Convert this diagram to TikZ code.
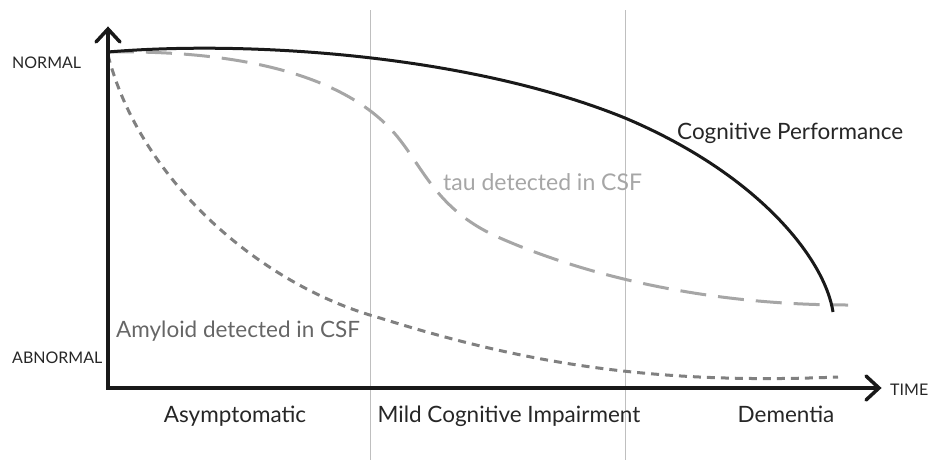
\documentclass[tikz,border=0pt]{standalone}
\usepackage{fontspec}
\setmainfont{Lato}
\begin{document}
\begin{tikzpicture}[x=1pt,y=-1pt,
  lab/.style={inner sep=0pt,font=\fontsize{22.5}{24}\selectfont,text=black!85},
  axlab/.style={inner sep=0pt,font=\fontsize{16}{18}\selectfont,text=black!85},
  axis/.style={line width=3.5pt,black!90},
  sep/.style={line width=0.6pt,black!25}]
\useasboundingbox (0,0) rectangle (931,463);
\coordinate (o) at (108,388);
\coordinate (ytip) at (108,30);
\coordinate (xtip) at (878,388);
\draw[sep] (370,10) -- (370,460);
\draw[sep] (625,10) -- (625,460);
% curves
\draw[line width=3pt,dash pattern=on 8pt off 6pt,black!50]
  (108,55) .. controls (140,180) and (260,285) .. (380,318)
  .. controls (520,362) and (650,385) .. (838,377);
\draw[line width=3pt,black!35,dash pattern=on 26pt off 12pt]
  (108,52) .. controls (240,50) and (350,75) .. (400,140)
  .. controls (425,172) and (440,212) .. (500,238)
  .. controls (580,273) and (700,305) .. (848,305);
\draw[line width=3pt,black!90]
  (108,52) .. controls (250,40) and (470,55) .. (625,118)
  .. controls (760,175) and (825,260) .. (833,312);
% axes
\draw[axis,line cap=round,line join=miter] (xtip) -- (o) -- (ytip);
\draw[axis,line cap=round] (96,42) -- (108,29) -- (120,42);
\draw[axis,line cap=round] (866,376) -- (879,388) -- (866,400);
\node[axlab,anchor=base west] (n) at (12,68) {NORMAL};
\node[axlab,anchor=base west] (a) at (12,363) {ABNORMAL};
\node[axlab,anchor=base west] (t) at (890,395) {TIME};
\node[lab,anchor=base] (s1) at (235,422) {Asymptomatic};
\node[lab,anchor=base] (s2) at (509,422) {Mild Cognitive Impairment};
\node[lab,anchor=base] (s3) at (786,422) {Dementia};
\node[lab,anchor=base west] (cp) at (677,139) {Cognitive Performance};
\node[lab,anchor=base west,text=black!35,font=\fontsize{23}{25}\selectfont] (tau) at (443,190) {tau detected in CSF};
\node[lab,anchor=base west,text=black!60] (am) at (116,337) {Amyloid detected in CSF};
\end{tikzpicture}
\end{document}
